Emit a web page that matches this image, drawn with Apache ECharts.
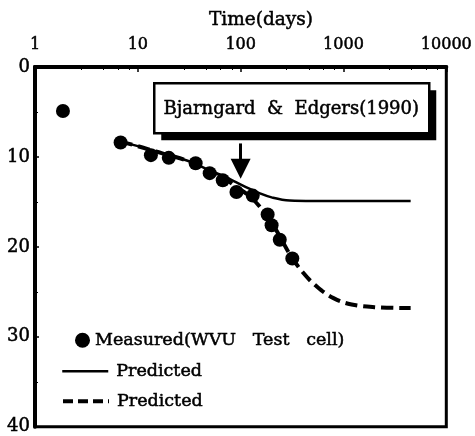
<!DOCTYPE html>
<html>
<head>
<meta charset="utf-8">
<script src="https://cdn.jsdelivr.net/npm/echarts@6/dist/echarts.min.js"></script>
<style>html,body{margin:0;padding:0;background:#fff}#c{width:475px;height:436px}</style>
</head>
<body>
<div id="c"></div>
<script>
const xTicks = [1, 10, 100, 1000, 10000];
const yTicks = [0, 10, 20, 30, 40];
const measuredDays = [1.87, 6.8, 13.4, 20, 36.5, 50, 67, 91, 131, 183, 200, 240, 318];
const measuredSettle = [4.9, 8.4, 9.8, 10.1, 10.7, 11.8, 12.6, 13.9, 14.3, 16.4, 17.6, 19.2, 21.3];
const solidDays = [6.8, 10, 15, 20, 30, 40, 50, 70, 90, 120, 150, 200, 300, 500, 1000, 4500];
const solidSettle = [8.3, 8.8, 9.4, 9.8, 10.4, 11.0, 11.5, 12.2, 12.8, 13.5, 14.0, 14.5, 14.85, 14.9, 14.9, 14.9];
const dashedDays = [6.8, 10, 15, 20, 30, 40, 50, 70, 90, 120, 150, 200, 250, 300, 400, 550, 800, 1200, 2000, 4500];
const dashedSettle = [8.3, 8.8, 9.4, 9.8, 10.4, 11.0, 11.6, 12.4, 13.3, 14.3, 15.4, 17.3, 19.2, 20.8, 22.8, 24.4, 25.7, 26.4, 26.7, 26.8];
const arrowDay = 100;
const arrowFrom = 8.5;
const arrowTo = 11.3;
const boxText = 'Bjarngard  &  Edgers(1990)';
const measuredName = 'Measured(WVU   Test   cell)';

const FONT = 'DejaVu Serif';
const INK = {textBorderColor: '#000', textBorderWidth: 0.5};
const zip = (a, b) => a.map((v, i) => [v, b[i]]);
const hiddenSymbol = {color: 'rgba(0,0,0,0)', borderWidth: 0, opacity: 0};
const legendText = Object.assign({fontFamily: FONT, fontSize: 17.5, color: '#000', padding: [0, 0, 0, 3]}, INK);
const chart = echarts.init(document.getElementById('c'), null, {renderer: 'canvas'});
chart.setOption({
  animation: false,
  backgroundColor: '#fff',
  title: {text: 'Time(days)', left: 204, top: 6,
    textStyle: Object.assign({fontFamily: FONT, fontSize: 18.5, fontWeight: 'normal', color: '#000'}, INK)},
  graphic: [
    {type: 'group', left: 153, top: 82, z: 10, children: [
      {type: 'rect', shape: {x: 7, y: 7, width: 275, height: 50}, style: {fill: '#000'}},
      {type: 'rect', shape: {x: 0, y: 0, width: 275, height: 50}, style: {fill: '#fff', stroke: '#000', lineWidth: 2.5}},
      {type: 'text', x: 137, y: 26, style: {text: boxText, fontFamily: FONT, fontSize: 18, fill: '#000', align: 'center', verticalAlign: 'middle', stroke: '#000', lineWidth: 0.5}}
    ]}
  ],
  grid: {left: 35, right: 27, top: 67, bottom: 3, show: true, borderColor: '#000', borderWidth: 3, backgroundColor: 'transparent'},
  legend: [
    {data: [measuredName], left: 70, top: 326, itemWidth: 15, itemHeight: 15,
     icon: 'circle', selectedMode: false, itemStyle: {opacity: 1},
     textStyle: Object.assign({}, legendText, {padding: 0})},
    {data: ['Predicted'], left: 56, top: 357, itemWidth: 46, itemHeight: 14, selectedMode: false,
     itemStyle: hiddenSymbol, lineStyle: {width: 2.5},
     textStyle: legendText},
    {data: ['Predicted '], left: 56, top: 387, itemWidth: 46, itemHeight: 14, selectedMode: false,
     itemStyle: hiddenSymbol, lineStyle: {width: 4, type: [10, 5]},
     formatter: () => 'Predicted',
     textStyle: legendText}
  ],
  xAxis: {
    type: 'log', logBase: 10, min: xTicks[0], max: xTicks[xTicks.length - 1], position: 'top',
    axisLine: {show: true, lineStyle: {color: '#000', width: 4}},
    axisTick: {show: true, inside: true, length: 5, lineStyle: {color: '#000', width: 1.5}},
    minorTick: {show: true, splitNumber: 5, length: 3, lineStyle: {color: '#000', width: 1}},
    splitLine: {show: false},
    axisLabel: Object.assign({fontFamily: FONT, fontSize: 16, color: '#000', margin: 14,
      formatter: v => String(Math.round(v))}, INK)
  },
  yAxis: {
    type: 'value', inverse: true, min: yTicks[0], max: yTicks[yTicks.length - 1], interval: 10,
    axisLine: {show: true, lineStyle: {color: '#000', width: 4}},
    axisTick: {show: true, inside: true, length: 4, lineStyle: {color: '#000', width: 1.5}},
    minorTick: {show: true, splitNumber: 2, length: 3, lineStyle: {color: '#000', width: 1}},
    splitLine: {show: false},
    axisLabel: Object.assign({fontFamily: FONT, fontSize: 18, color: '#000', margin: 5}, INK)
  },
  series: [
    {name: 'Predicted', type: 'line', data: zip(solidDays, solidSettle), smooth: 0.4,
     symbol: 'none', lineStyle: {color: '#000', width: 2.5}, itemStyle: {color: '#000'}, z: 2,
     markLine: {silent: true, animation: false, label: {show: false},
       lineStyle: {color: '#000', width: 3, type: 'solid'},
       data: [[{coord: [arrowDay, arrowFrom], symbol: 'none'},
               {coord: [arrowDay, arrowTo], symbol: 'triangle', symbolSize: [20, 20]}]]}},
    {name: 'Predicted ', type: 'line', data: zip(dashedDays, dashedSettle), smooth: 0.4,
     symbol: 'none', lineStyle: {color: '#000', width: 4, type: [12, 6]}, itemStyle: {color: '#000'}, z: 2},
    {name: measuredName, type: 'scatter', data: zip(measuredDays, measuredSettle),
     symbol: 'circle', symbolSize: 14, itemStyle: {color: '#000', opacity: 1}, z: 3}
  ]
});
</script>
</body>
</html>
